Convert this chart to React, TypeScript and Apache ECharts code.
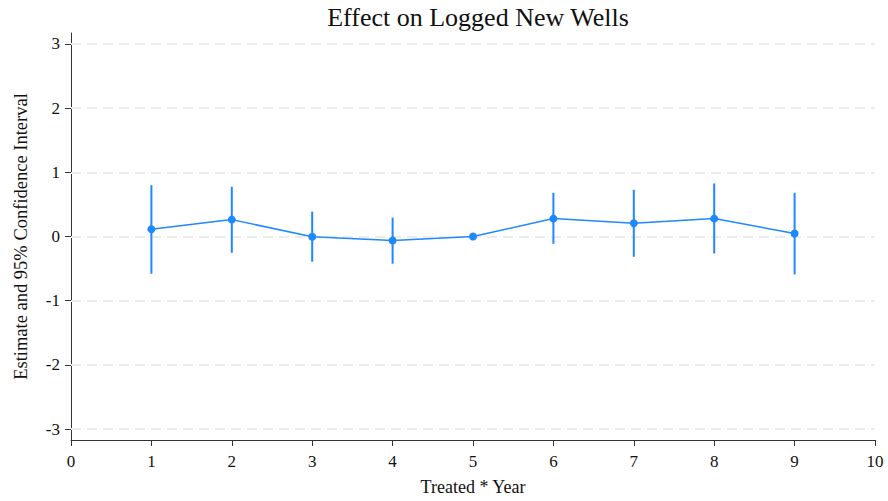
import React, { useEffect, useRef } from "react";
import * as echarts from "echarts";

const periods = [1, 2, 3, 4, 5, 6, 7, 8, 9];
const estimates = [0.113, 0.263, -0.005, -0.062, 0.0, 0.279, 0.206, 0.279, 0.046];
const ciLower = [-0.58, -0.254, -0.393, -0.424, null, -0.114, -0.316, -0.264, -0.59];
const ciUpper = [0.8, 0.775, 0.387, 0.294, null, 0.68, 0.728, 0.826, 0.68];
const yTicks = [-3, -2, -1, 0, 1, 2, 3];

const BLUE = "#1E88FF";
const FONT = "Liberation Serif";

export default function App() {
  const ref = useRef<HTMLDivElement>(null);
  useEffect(() => {
    if (!ref.current) return;
    const chart = echarts.init(ref.current, null, { renderer: "svg" });
    const ciData = periods
      .map((p, i) => [p, ciLower[i], ciUpper[i]])
      .filter((d) => d[1] !== null && d[2] !== null);
    chart.setOption({
      animation: false,
      backgroundColor: "#ffffff",
      textStyle: { fontFamily: FONT },
      title: {
        text: "Effect on Logged New Wells",
        left: 473,
        textAlign: "center",
        top: -1,
        textStyle: { fontFamily: FONT, fontSize: 26, fontWeight: "normal", color: "#111" },
      },
      grid: { left: 71, right: 13, top: 33, bottom: 58 },
      xAxis: {
        type: "value",
        min: 0,
        max: 10,
        interval: 1,
        name: "Treated * Year",
        nameLocation: "middle",
        nameGap: 38,
        nameTextStyle: { fontFamily: FONT, fontSize: 18, color: "#111" },
        axisLine: { onZero: false, lineStyle: { color: "#333", width: 1 } },
        axisTick: { show: true, length: 6, lineStyle: { color: "#333" } },
        axisLabel: { fontFamily: FONT, fontSize: 17, color: "#111", margin: 13, showMaxLabel: true },
        splitLine: { show: false },
      },
      yAxis: {
        type: "value",
        min: -3.17,
        max: 3.17,
        name: "Estimate and 95% Confidence Interval",
        nameLocation: "middle",
        nameGap: 41,
        nameTextStyle: { fontFamily: FONT, fontSize: 18.5, color: "#111" },
        axisLine: { show: true, onZero: false, lineStyle: { color: "#333", width: 1 } },
        axisTick: { show: true, length: 6, customValues: yTicks, lineStyle: { color: "#333" } },
        axisLabel: { fontFamily: FONT, fontSize: 17, color: "#111", margin: 11, customValues: yTicks },
        splitLine: { show: false },
      },
      series: [
        {
          type: "custom",
          data: ciData,
          z: 2,
          renderItem: (params: any, api: any) => {
            const x = api.value(0);
            const lo = api.coord([x, api.value(1)]);
            const hi = api.coord([x, api.value(2)]);
            return {
              type: "line",
              shape: { x1: lo[0], y1: lo[1], x2: hi[0], y2: hi[1] },
              style: { stroke: BLUE, lineWidth: 2 },
            };
          },
          encode: { x: 0, y: [1, 2] },
        },
        {
          type: "line",
          data: periods.map((p, i) => [p, estimates[i]]),
          z: 3,
          symbol: "circle",
          symbolSize: 8,
          itemStyle: { color: BLUE },
          lineStyle: { color: BLUE, width: 1.5 },
          markLine: {
            silent: true,
            symbol: "none",
            label: { show: false },
            z: 1,
            lineStyle: { color: "#ececec", width: 2, type: [10, 6] },
            data: yTicks.map((v) => ({ yAxis: v })),
          },
        },
      ],
    });
    return () => chart.dispose();
  }, []);
  return (
    <div
      ref={ref}
      style={{ position: "absolute", left: 0, top: 0, width: 888, height: 501 }}
    />
  );
}
